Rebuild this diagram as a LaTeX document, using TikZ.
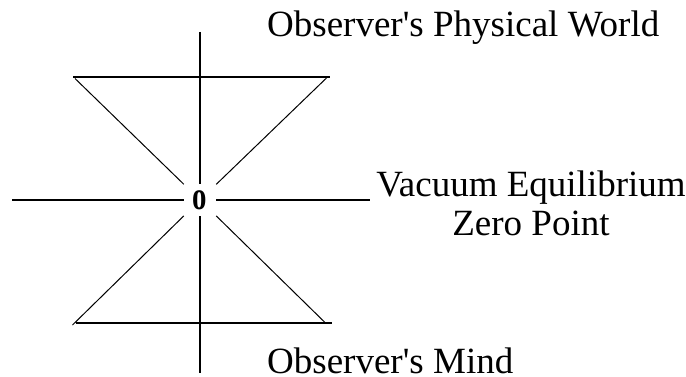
\documentclass[tikz,border=0pt]{standalone}
\usepackage{fontspec}
\setmainfont{Liberation Serif}[Ligatures=TeXOff]
\begin{document}
\begin{tikzpicture}[x=1pt,y=-1pt,
  heavy/.style={line width=1.7pt, line cap=butt},
  light/.style={line width=1pt},
  lbl/.style={font=\fontsize{37}{39.4}\selectfont, inner sep=0pt},
  hub/.style={draw=none, rectangle, minimum size=32pt, inner sep=0pt,
    font=\bfseries\fontsize{40}{40}\selectfont}]
\useasboundingbox (0,0) rectangle (686,377);
\node[hub] (c) at (200,200) {\scalebox{0.72}[1]{o}};
% axis ends
\coordinate (vt) at (200,32);
\coordinate (vb) at (200,373);
\coordinate (hl) at (12,200);
\coordinate (hr) at (370,200);
% trapezoid corners
\coordinate (tl) at (75,78.5);
\coordinate (tr) at (326.5,78);
\coordinate (bl) at (72.5,325);
\coordinate (br) at (325,322.5);
\coordinate (ta) at (73,77);
\coordinate (tb) at (329.5,77);
\coordinate (ba) at (76,323.3);
\coordinate (bb) at (331.5,323.3);
% axes
\draw[heavy] (vt) -- (c);
\draw[heavy] (c) -- (vb);
\draw[heavy] (hl) -- (c);
\draw[heavy] (c) -- (hr);
% top and bottom bars
\draw[heavy] (ta) -- (tb);
\draw[heavy] (ba) -- (bb);
% diagonals
\draw[light] (tl) -- (c);
\draw[light] (tr) -- (c);
\draw[light] (bl) -- (c);
\draw[light] (br) -- (c);
% labels
\node[lbl, anchor=base west] (pw) at (267,36.7) {Observer's Physical World};
\node[lbl, align=center, anchor=base] (vz) at (531,236) {Vacuum Equilibrium\\Zero Point};
\node[lbl, anchor=base west] (om) at (267,373) {Observer's Mind};
\end{tikzpicture}
\end{document}
